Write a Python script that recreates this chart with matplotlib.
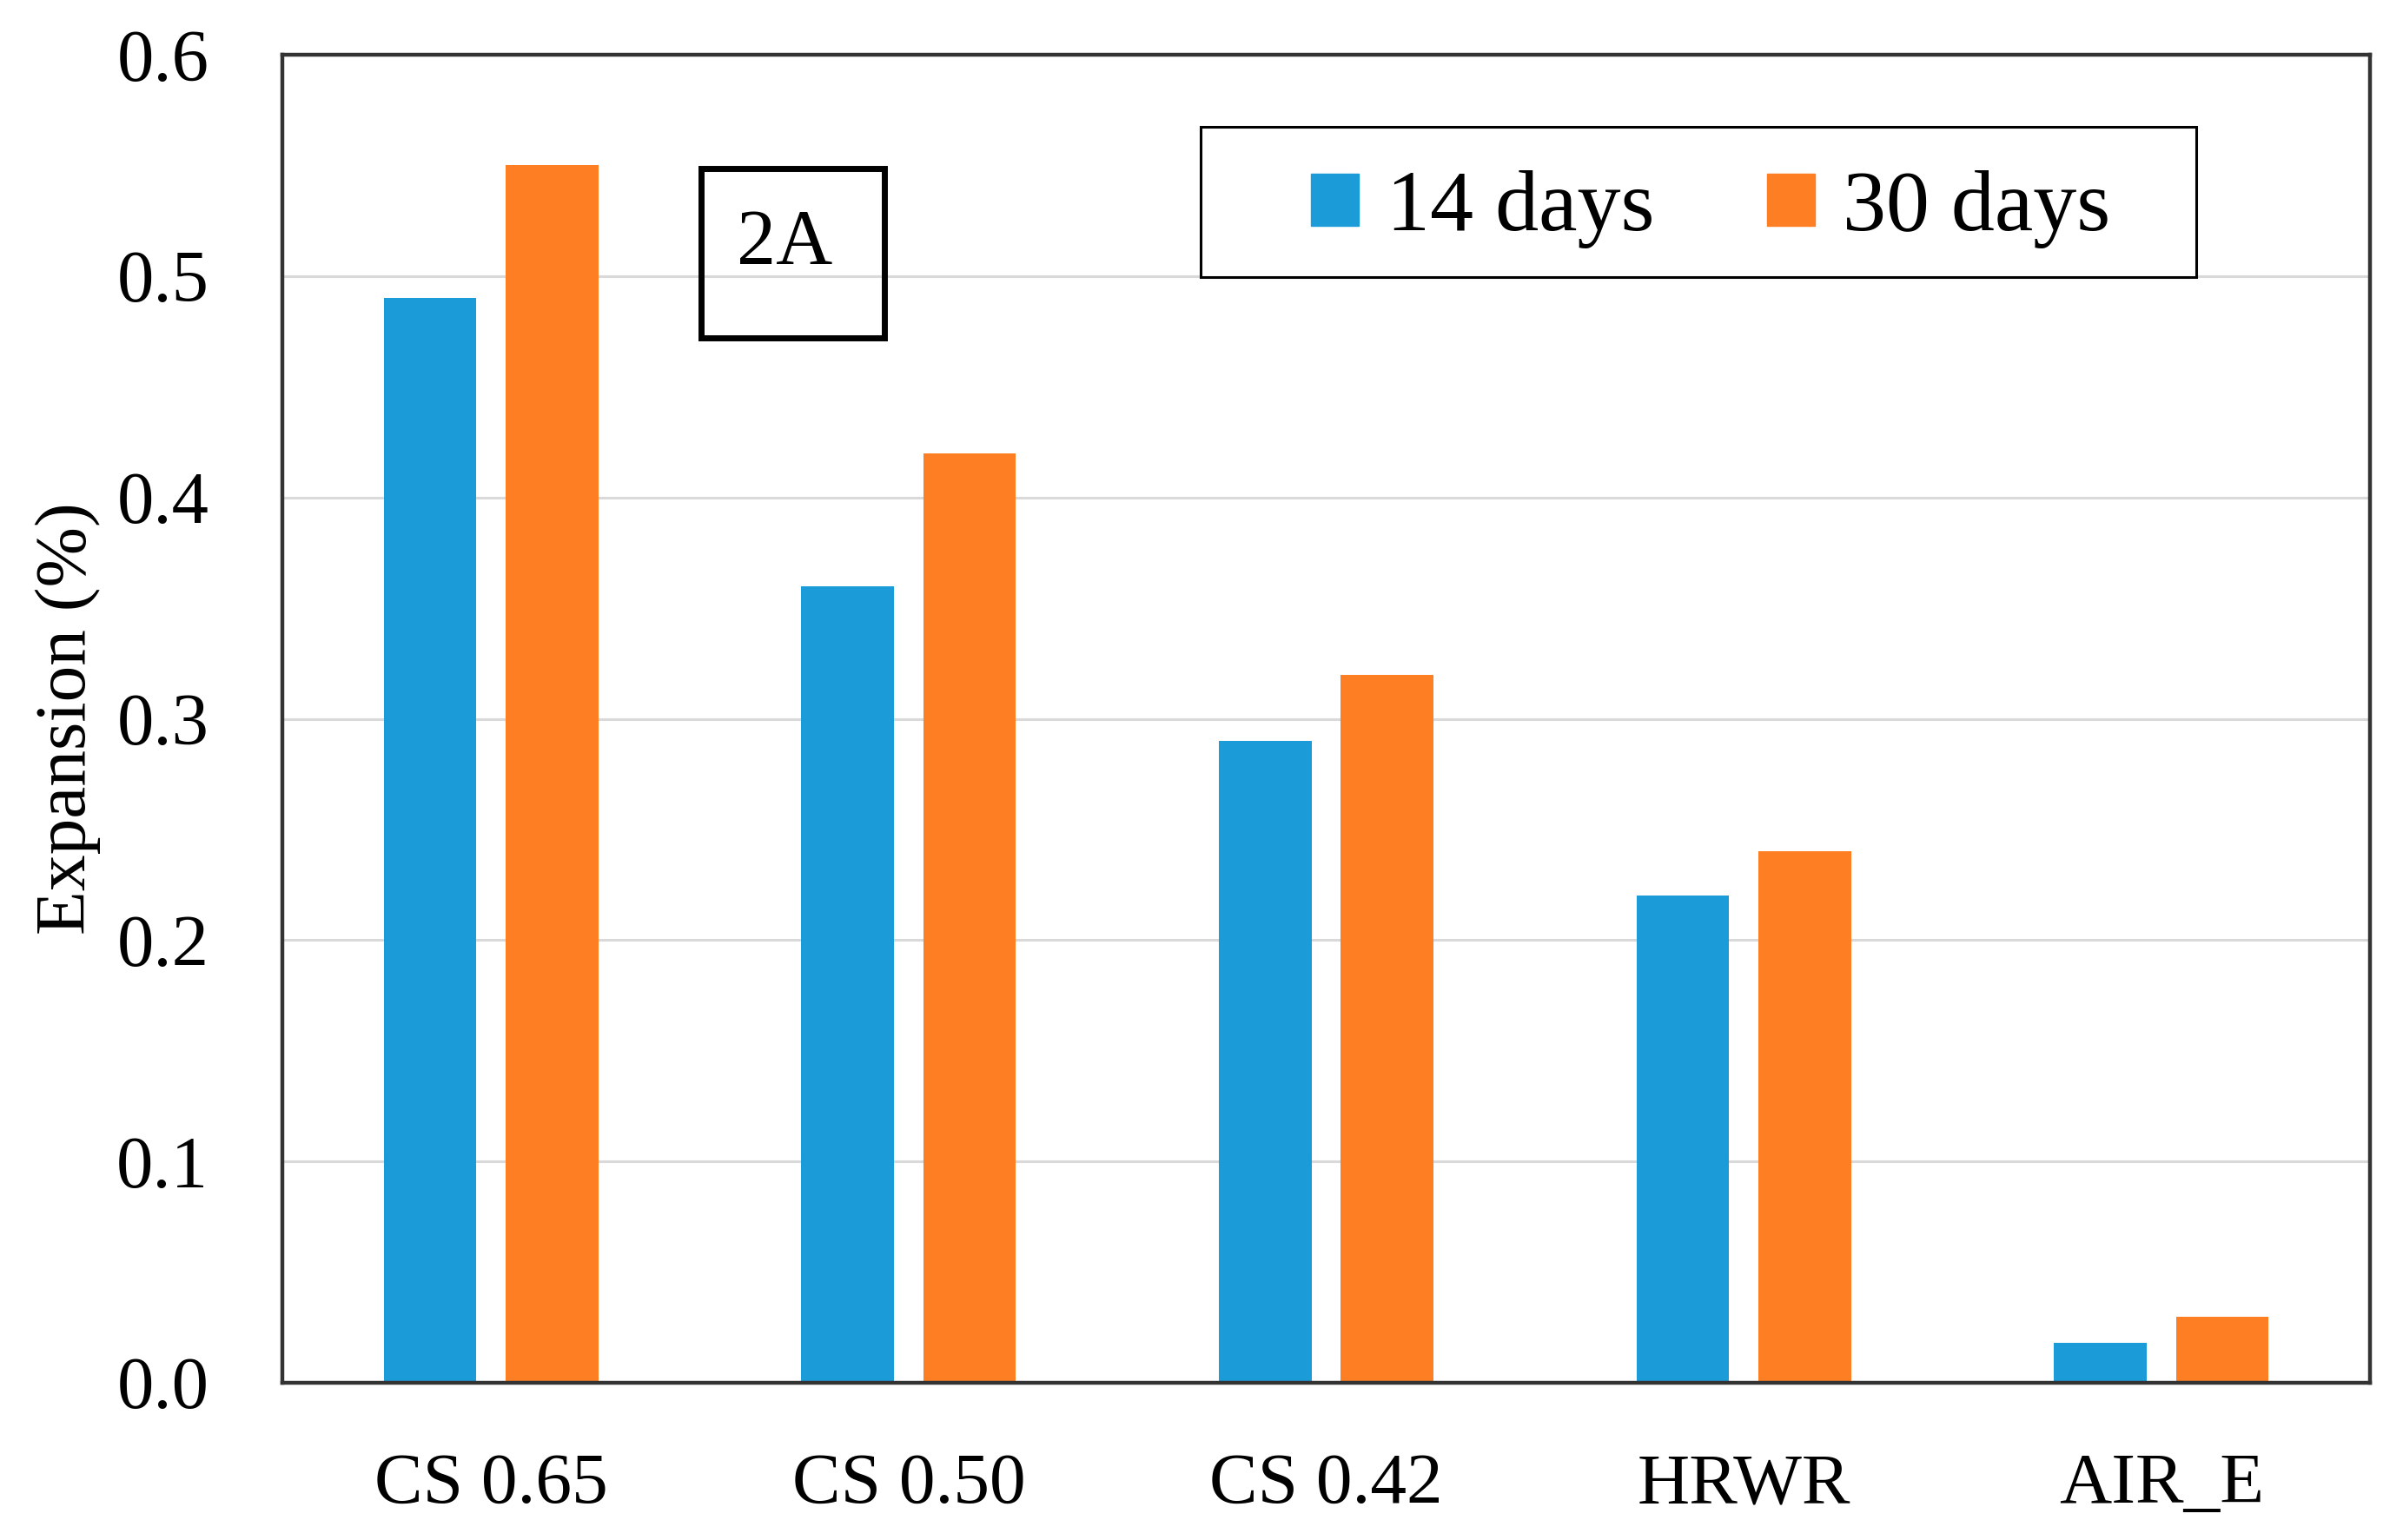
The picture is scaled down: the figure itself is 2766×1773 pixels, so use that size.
import numpy as np
import matplotlib.pyplot as plt
from matplotlib.patches import Rectangle, Patch

plt.rcParams["font.family"] = ["Liberation Serif", "DejaVu Serif"]

CATEGORIES = ["CS 0.65", "CS 0.50", "CS 0.42", "HRWR", "AIR_E"]
DAYS_14 = [0.49, 0.36, 0.29, 0.22, 0.018]
DAYS_30 = [0.55, 0.42, 0.32, 0.24, 0.03]
SERIES = ["14 days", "30 days"]
Y_TICKS = [0.0, 0.1, 0.2, 0.3, 0.4, 0.5, 0.6]

BLUE = "#1b9bd7"
ORANGE = "#fe7e23"

fig = plt.figure(figsize=(27.66, 17.73), dpi=100)
ax = fig.add_axes([325 / 2766, 1 - 1592 / 1773, 2403 / 2766, 1529 / 1773])

x = np.arange(len(CATEGORIES))
width = 0.222
offset = 0.146

ax.bar(x - offset, DAYS_14, width, color=BLUE, zorder=2)
ax.bar(x + offset, DAYS_30, width, color=ORANGE, zorder=2)

ax.set_xlim(-0.5, len(CATEGORIES) - 0.5)
ax.set_ylim(0, 0.6)
ax.set_yticks(Y_TICKS)
ax.set_yticklabels([f"{v:.1f}" for v in Y_TICKS])
ax.set_xticks(x)
ax.set_xticklabels(CATEGORIES)
ax.tick_params(axis="y", length=0, pad=61, labelsize=61)
ax.tick_params(axis="x", length=0, pad=58, labelsize=60)

# grid
ax.set_axisbelow(True)
ax.yaxis.grid(True, color="#d9d9d9", linewidth=2.2)

for s in ax.spines.values():
    s.set_color("#333333")
    s.set_linewidth(3.2)

ax.text(-0.1028, 0.5, "Expansion (%)", rotation=90, ha="center", va="center",
        fontsize=60, transform=ax.transAxes)

# "2A" box
ax.add_patch(Rectangle((0.2004, 0.7871), 0.2882 - 0.2004, 0.9146 - 0.7871,
                       transform=ax.transAxes, fill=False, edgecolor="black",
                       linewidth=5, zorder=4, clip_on=False))
ax.text(0.2405, 0.857, "2A", ha="center", va="center", fontsize=65,
        transform=ax.transAxes, zorder=5)

# legend with its own frame
ax.add_patch(Rectangle((0.4399, 0.8326), 0.9168 - 0.4399, 0.9457 - 0.8326,
                       transform=ax.transAxes, facecolor="white", edgecolor="black",
                       linewidth=2.2, zorder=4, clip_on=False))
handles = [Patch(color=BLUE), Patch(color=ORANGE)]
leg = ax.legend(handles, SERIES, loc="center", bbox_to_anchor=(0.6841, 0.8835),
                frameon=False, ncol=2, fontsize=72, handlelength=0.55,
                handleheight=0.55, handletextpad=0.32, columnspacing=1.3,
                borderpad=0, borderaxespad=0)
leg.set_zorder(6)

fig.savefig("out.png", dpi=100)
